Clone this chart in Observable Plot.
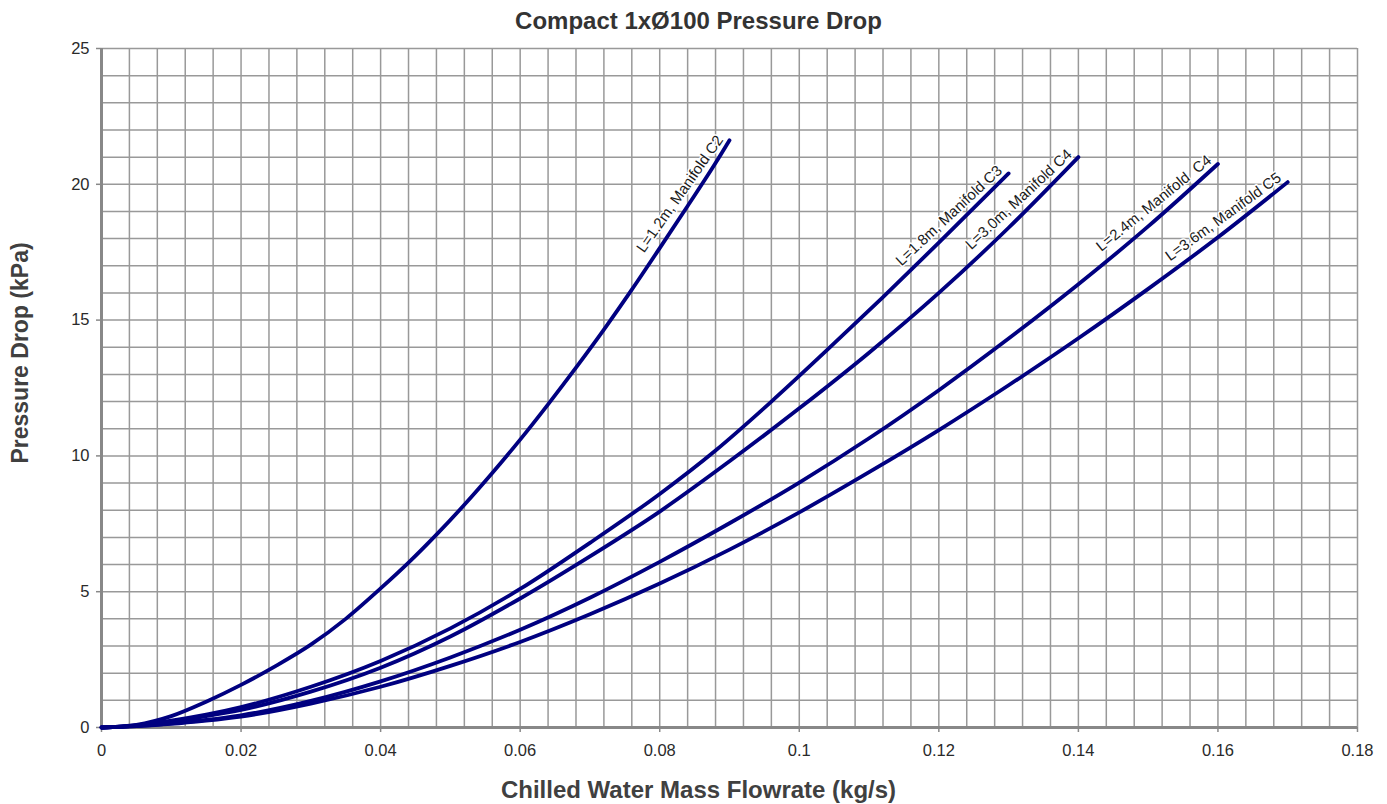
<!DOCTYPE html>
<html>
<head>
<meta charset="utf-8">
<script src="https://cdn.jsdelivr.net/npm/d3@7"></script>
<script src="https://cdn.jsdelivr.net/npm/@observablehq/plot@0.6"></script>
<style>
  body { margin: 0; background: #fff; font-family: "Liberation Sans", Arial, sans-serif; }
  #wrap { position: relative; width: 1387px; height: 804px; }
  #title { position: absolute; left: 5px; top: 0; width: 1387px; height: 40px; text-align: center;
           font: bold 24px "Liberation Sans", Arial, sans-serif; line-height: 42px; color: #333; }
</style>
</head>
<body>
<div id="wrap">
  <div id="chart"></div>
  <div id="title">Compact 1xØ100 Pressure Drop</div>
</div>
<script>
// ---- Data ----
const xLabel = "Chilled Water Mass Flowrate (kg/s)";
const yLabel = "Pressure Drop (kPa)";

const xTicks = [0, 0.02, 0.04, 0.06, 0.08, 0.1, 0.12, 0.14, 0.16, 0.18];
const yTicks = [0, 5, 10, 15, 20, 25];

const seriesNames = ["L=1.2m, Manifold C2", "L=1.8m, Manifold C3", "L=3.0m, Manifold C4", "L=2.4m, Manifold  C4", "L=3.6m, Manifold C5"];

const flowC2 = [0, 0.005, 0.01, 0.015, 0.02, 0.025, 0.03, 0.035, 0.04, 0.044, 0.048, 0.052, 0.056, 0.06, 0.064, 0.068, 0.072, 0.076, 0.08, 0.084, 0.088, 0.09];
const dropC2 = [0, 0.1, 0.42, 0.95, 1.57, 2.27, 3.05, 4.0, 5.12, 6.07, 7.1, 8.2, 9.37, 10.6, 11.9, 13.25, 14.65, 16.12, 17.65, 19.2, 20.78, 21.62];

const flowC3 = [0, 0.005, 0.01, 0.015, 0.02, 0.03, 0.04, 0.05, 0.06, 0.07, 0.08, 0.088, 0.096, 0.104, 0.112, 0.12, 0.13];
const dropC3 = [0, 0.08, 0.25, 0.47, 0.75, 1.5, 2.45, 3.65, 5.1, 6.8, 8.6, 10.2, 12.0, 13.9, 15.85, 17.85, 20.4];

const flowC4a = [0, 0.005, 0.01, 0.015, 0.02, 0.03, 0.04, 0.05, 0.06, 0.07, 0.08, 0.09, 0.1, 0.11, 0.12, 0.13, 0.14];
const dropC4a = [0, 0.07, 0.22, 0.42, 0.65, 1.32, 2.2, 3.35, 4.75, 6.3, 7.95, 9.8, 11.75, 13.8, 16.0, 18.4, 21.0];

const flowC4b = [0, 0.005, 0.01, 0.015, 0.02, 0.03, 0.04, 0.05, 0.06, 0.07, 0.08, 0.09, 0.1, 0.11, 0.12, 0.13, 0.14, 0.15, 0.16];
const dropC4b = [0, 0.05, 0.15, 0.28, 0.45, 0.98, 1.7, 2.58, 3.6, 4.78, 6.1, 7.52, 9.02, 10.65, 12.42, 14.32, 16.32, 18.45, 20.75];

const flowC5 = [0, 0.005, 0.01, 0.015, 0.02, 0.03, 0.04, 0.05, 0.06, 0.07, 0.08, 0.09, 0.1, 0.11, 0.12, 0.13, 0.14, 0.15, 0.16, 0.17];
const dropC5 = [0, 0.05, 0.13, 0.25, 0.4, 0.88, 1.5, 2.27, 3.15, 4.17, 5.3, 6.55, 7.92, 9.4, 10.95, 12.6, 14.33, 16.15, 18.05, 20.08];

const labelAngles = [-55, -43, -43, -39, -36];

// ---- Build table ----
const flows = [flowC2, flowC3, flowC4a, flowC4b, flowC5];
const drops = [dropC2, dropC3, dropC4a, dropC4b, dropC5];
const rows = [];
flows.forEach((fs, k) => fs.forEach((f, i) => rows.push({series: seriesNames[k], flow: f, drop: drops[k][i]})));

const minorX = d3.range(0, 46).map(i => +(i * 0.004).toFixed(3));
const minorY = d3.range(0, 26);

const labelMarks = seriesNames.map((name, k) => {
  const last = {flow: flows[k][flows[k].length - 1], drop: drops[k][drops[k].length - 1]};
  const th = -labelAngles[k] * Math.PI / 180;
  const g = 5, b = 3;
  const dx = -Math.sin(th) * g - Math.cos(th) * b;
  const dy = -Math.cos(th) * g + Math.sin(th) * b;
  return Plot.text([last], {
    x: "flow", y: "drop", text: () => name,
    rotate: labelAngles[k], textAnchor: "end", lineAnchor: "bottom",
    dx, dy, fontSize: 15, fill: "#1a1a1a",
    stroke: "white", strokeWidth: 3, fontFamily: "Liberation Sans, Arial, sans-serif"
  });
});

const fmt = d3.format("~g");

const chart = Plot.plot({
  width: 1387,
  height: 804,
  marginTop: 48,
  marginLeft: 101,
  marginRight: 30,
  marginBottom: 77,
  style: {fontFamily: "Liberation Sans, Arial, sans-serif", background: "white", overflow: "visible"},
  x: {domain: [0, 0.18]},
  y: {domain: [0, 25]},
  marks: [
    Plot.gridX(minorX, {stroke: "#999", strokeOpacity: 1, strokeWidth: 1.5}),
    Plot.gridY(minorY, {stroke: "#999", strokeOpacity: 1, strokeWidth: 1.5}),
    Plot.ruleX([0], {stroke: "#888", strokeWidth: 3}),
    Plot.ruleY([0], {stroke: "#888", strokeWidth: 3}),
    Plot.axisX(xTicks, {tickSize: 5, tickPadding: 12, fontSize: 16.5, stroke: "#888", fill: "#2a2a2a", label: null, strokeWidth: 1.5, tickFormat: fmt}),
    Plot.axisY(yTicks, {tickSize: 5, tickPadding: 7, fontSize: 16.5, stroke: "#888", fill: "#2a2a2a", label: null, strokeWidth: 1.5, tickFormat: fmt}),
    Plot.line(rows, {x: "flow", y: "drop", z: "series", stroke: "#000080", strokeWidth: 3.8, curve: "monotone-x"}),
    ...labelMarks,
    Plot.text([xLabel], {frameAnchor: "bottom", lineAnchor: "middle", textAnchor: "middle", dy: 63, dx: -31, fontSize: 24, fontWeight: "bold", fill: "#404040"}),
    Plot.text([yLabel], {frameAnchor: "left", lineAnchor: "middle", textAnchor: "middle", dx: -81, dy: -35, rotate: -90, fontSize: 23, fontWeight: "bold", fill: "#404040"})
  ]
});
document.getElementById("chart").appendChild(chart);
</script>
</body>
</html>
